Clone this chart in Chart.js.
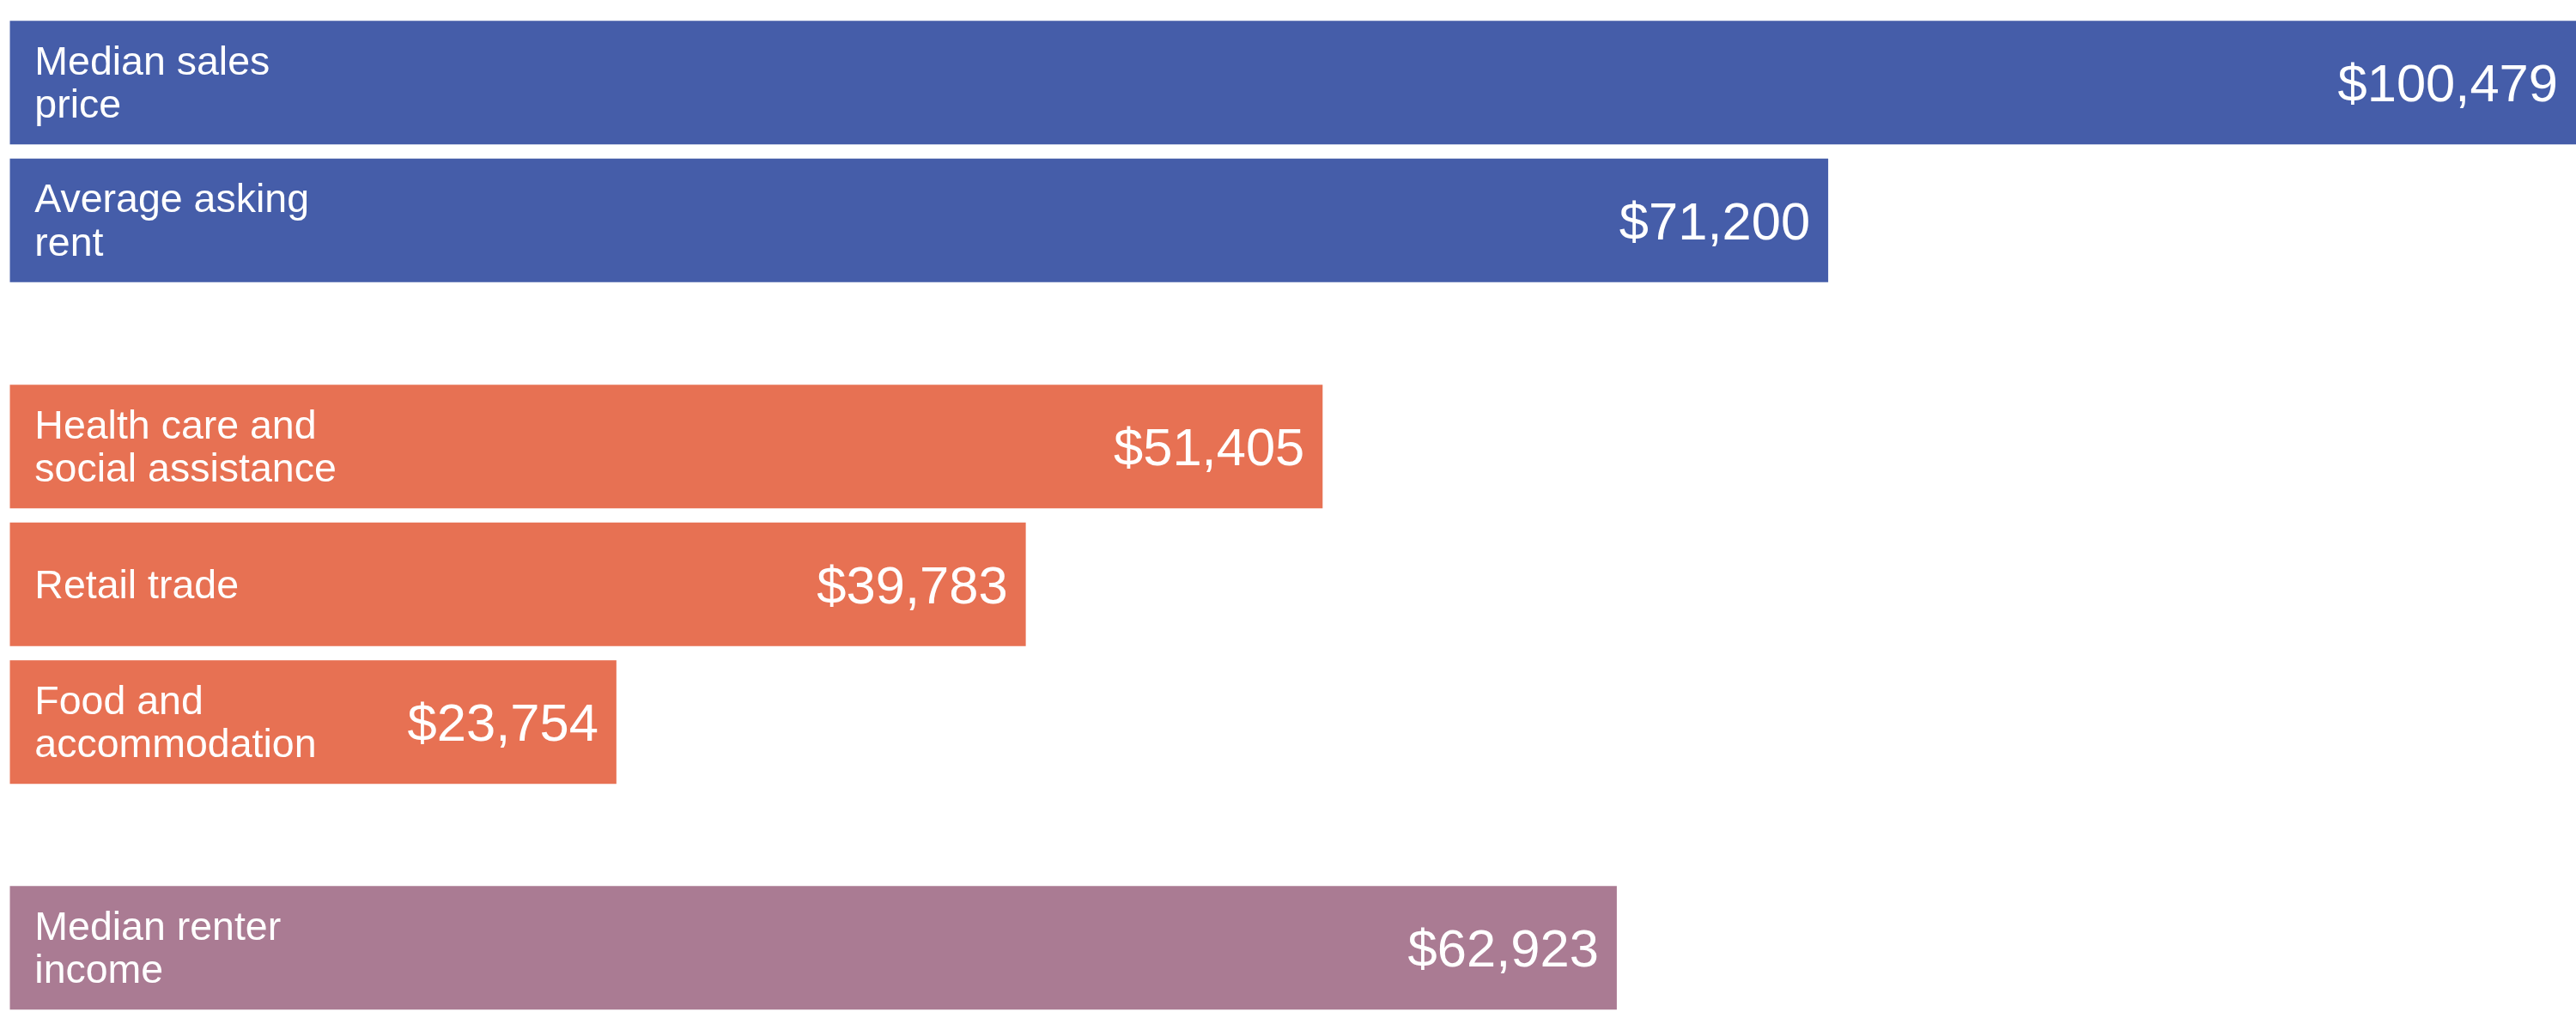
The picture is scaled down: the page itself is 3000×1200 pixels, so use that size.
<!DOCTYPE html>
<html>
<head>
<meta charset="utf-8">
<script src="https://cdn.jsdelivr.net/npm/chart.js@4.4.1/dist/chart.umd.min.js"></script>
<style>
  html, body { margin: 0; padding: 0; background: #fff; }
  #wrap { width: 3000px; height: 1200px; padding-top: 15.5px; box-sizing: border-box; }
  .grp { position: relative; width: 3000px; }
  #g1 { height: 321px; }
  #g2 { height: 481.5px; margin-top: 103px; }
  #g3 { height: 160.5px; margin-top: 102.5px; }
</style>
</head>
<body>
<div id="wrap">
  <div class="grp" id="g1"><canvas id="housingChart"></canvas></div>
  <div class="grp" id="g2"><canvas id="wageChart"></canvas></div>
  <div class="grp" id="g3"><canvas id="incomeChart"></canvas></div>
</div>
<script>
// housing costs
const housingLabels = [['Median sales', 'price'], ['Average asking', 'rent']];
const housingValues = [100479, 71200];
const housingColor = '#455da9';

// wages by industry
const wageLabels = [['Health care and', 'social assistance'], ['Retail trade'], ['Food and', 'accommodation']];
const wageValues = [51405, 39783, 23754];
const wageColor = '#e77153';

// renter income
const incomeLabels = [['Median renter', 'income']];
const incomeValues = [62923];
const incomeColor = '#aa7b93';

const xMax = Math.max(...housingValues, ...wageValues, ...incomeValues);
const fontFamily = '"Liberation Sans", Arial, sans-serif';

// draws category name on the left and value on the right, inside each bar
const barTextPlugin = {
  id: 'barText',
  afterDatasetsDraw(chart) {
    const ctx = chart.ctx;
    const meta = chart.getDatasetMeta(0);
    const labels = chart.data.labels;
    const values = chart.data.datasets[0].data;
    ctx.save();
    ctx.fillStyle = '#fff';
    ctx.textBaseline = 'alphabetic';
    meta.data.forEach((bar, i) => {
      const lines = labels[i];
      const capH = 31.6, lineH = 50.5;
      ctx.font = '46.5px ' + fontFamily;
      ctx.textAlign = 'left';
      lines.forEach((line, j) => {
        const y = bar.y + capH / 2 + (j - (lines.length - 1) / 2) * lineH;
        ctx.fillText(line, bar.base + 29, y);
      });
      ctx.font = '61.5px ' + fontFamily;
      ctx.textAlign = 'right';
      ctx.fillText('$' + values[i].toLocaleString('en-US'), bar.x - 21, bar.y + 22);
    });
    ctx.restore();
  }
};

const makeChart = function (el, labels, values, color) {
  return new Chart(document.getElementById(el), {
    type: 'bar',
    data: {
      labels: labels,
      datasets: [{
        data: values,
        backgroundColor: color,
        borderWidth: 0,
        barPercentage: 0.897,
        categoryPercentage: 1
      }]
    },
    options: {
      indexAxis: 'y',
      responsive: true,
      maintainAspectRatio: false,
      animation: false,
      layout: { padding: { left: 11.3, right: 0, top: 0, bottom: 0 } },
      scales: {
        x: { display: false, min: 0, max: xMax },
        y: { display: false }
      },
      plugins: {
        legend: { display: false },
        tooltip: { enabled: false }
      }
    },
    plugins: [barTextPlugin]
  });
};

makeChart('housingChart', housingLabels, housingValues, housingColor);
makeChart('wageChart', wageLabels, wageValues, wageColor);
makeChart('incomeChart', incomeLabels, incomeValues, incomeColor);
</script>
</body>
</html>
